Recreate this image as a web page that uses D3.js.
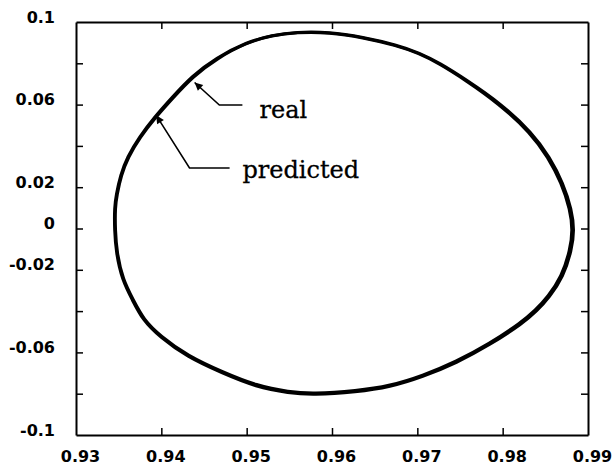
<!DOCTYPE html>
<html>
<head>
<meta charset="utf-8">
<script src="https://cdn.jsdelivr.net/npm/d3@7"></script>
<style>
  body { margin: 0; background: #fff; }
  .tick text { font-family: "DejaVu Sans", sans-serif; font-weight: bold; font-size: 16px; fill: #000; }
  .note { font-family: "DejaVu Serif", serif; font-size: 24px; fill: #000; stroke: #000; stroke-width: 0.3px; }
</style>
</head>
<body>
<svg id="chart" width="615" height="470"></svg>
<script>
const xTicks = [0.93, 0.94, 0.95, 0.96, 0.97, 0.98, 0.99];
const yTicks = [-0.1, -0.08, -0.06, -0.04, -0.02, 0, 0.02, 0.04, 0.06, 0.08, 0.1];
const yLabels = [0.1, 0.06, 0.02, 0, -0.02, -0.06, -0.1];

// real trajectory (clockwise from the top)
const realX = [0.9558, 0.9597, 0.9636, 0.9676, 0.9703, 0.9726, 0.9758, 0.9797, 0.9835, 0.9855,
               0.9871, 0.9881, 0.9884, 0.9881, 0.9871, 0.9855, 0.9840, 0.9824, 0.9785, 0.9746,
               0.9706, 0.9668, 0.9629, 0.9577, 0.9550, 0.9511, 0.9471, 0.9430, 0.9398, 0.9378,
               0.9366, 0.9354, 0.9347, 0.9345, 0.9345, 0.9347, 0.9352, 0.9360, 0.9374, 0.9392,
               0.9413, 0.9436, 0.9464, 0.9500, 0.9530];
const realY = [0.0952, 0.0952, 0.0927, 0.0889, 0.0850, 0.0802, 0.0719, 0.0608, 0.0463, 0.0346,
               0.0220, 0.0090, -0.0007, -0.0104, -0.0235, -0.0332, -0.0400, -0.0458, -0.0564, -0.0651,
               -0.0719, -0.0768, -0.0792, -0.0806, -0.0797, -0.0768, -0.0700, -0.0622, -0.0525, -0.0443,
               -0.0346, -0.0249, -0.0119, -0.0007, 0.0104, 0.0162, 0.0259, 0.0346, 0.0443, 0.0540,
               0.0637, 0.0739, 0.0826, 0.0903, 0.0937];

// predicted trajectory, almost on top of the real one
const predX = [0.9558, 0.9597, 0.9636, 0.9675, 0.9702, 0.9725, 0.9757, 0.9795, 0.9833, 0.9853,
               0.9869, 0.9879, 0.9882, 0.9879, 0.9869, 0.9853, 0.9838, 0.9822, 0.9784, 0.9745,
               0.9706, 0.9668, 0.9629, 0.9577, 0.9550, 0.9512, 0.9472, 0.9431, 0.9399, 0.9379,
               0.9367, 0.9355, 0.9348, 0.9346, 0.9346, 0.9348, 0.9353, 0.9361, 0.9375, 0.9393,
               0.9414, 0.9437, 0.9465, 0.9500, 0.9530];
const predY = [0.0950, 0.0950, 0.0925, 0.0887, 0.0848, 0.0800, 0.0717, 0.0606, 0.0462, 0.0345,
               0.0220, 0.0090, -0.0007, -0.0104, -0.0234, -0.0330, -0.0397, -0.0454, -0.0559, -0.0645,
               -0.0713, -0.0762, -0.0786, -0.0800, -0.0791, -0.0762, -0.0695, -0.0617, -0.0521, -0.0440,
               -0.0344, -0.0248, -0.0119, -0.0007, 0.0104, 0.0161, 0.0258, 0.0344, 0.0441, 0.0537,
               0.0634, 0.0736, 0.0823, 0.0901, 0.0935];

// annotations: label, arrow tip, elbow, end of leader, text anchor
const noteText = ["real", "predicted"];
const noteTip = [[0.9439, 0.0707], [0.9394, 0.0548]];
const noteElbow = [[0.9468, 0.0598], [0.9433, 0.0293]];
const noteEnd = [[0.9495, 0.0598], [0.9480, 0.0293]];
const noteAt = [[0.9515, 0.0535], [0.9495, 0.0245]];

const svg = d3.select("#chart");

const x = d3.scaleLinear().domain([0.93, 0.99]).range([76, 588]);
const y = d3.scaleLinear().domain([-0.1, 0.1]).range([435, 22]);

svg.append("defs").append("marker")
  .attr("id", "head")
  .attr("viewBox", "0 0 10 10")
  .attr("refX", 10)
  .attr("refY", 5)
  .attr("markerWidth", 13)
  .attr("markerHeight", 8)
  .attr("markerUnits", "userSpaceOnUse")
  .attr("orient", "auto-start-reverse")
  .append("path")
  .attr("d", "M0,0L10,5L0,10Z")
  .attr("fill", "#000");

// frame with inward ticks
const label = d => String(+d.toFixed(2));
svg.append("g")
  .attr("transform", `translate(0,${y(-0.1)})`)
  .call(d3.axisBottom(x).tickValues(xTicks).tickSizeInner(-7).tickSizeOuter(0).tickPadding(16).tickFormat(label))
  .call(g => g.selectAll(".tick text").attr("dx", 4));

svg.append("g")
  .attr("transform", `translate(0,${y(0.1)})`)
  .call(d3.axisTop(x).tickValues(xTicks).tickSizeInner(-7).tickSizeOuter(0).tickFormat(""));

svg.append("g")
  .attr("transform", `translate(${x(0.93)},0)`)
  .call(d3.axisLeft(y).tickValues(yTicks).tickSizeInner(-7).tickSizeOuter(0).tickPadding(21)
    .tickFormat(d => yLabels.some(v => Math.abs(v - d) < 1e-9) ? label(d) : ""))
  .call(g => g.selectAll(".tick text").attr("y", -5));

svg.append("g")
  .attr("transform", `translate(${x(0.99)},0)`)
  .call(d3.axisRight(y).tickValues(yTicks).tickSizeInner(-7).tickSizeOuter(0).tickFormat(""));

svg.selectAll(".domain").attr("stroke", "#000").attr("stroke-width", 2);
svg.selectAll(".tick line").attr("stroke", "#000").attr("stroke-width", 1.5);
svg.selectAll(".tick").filter(d => d === 0.93 || d === 0.99 || d === 0.1 || d === -0.1)
  .select("line").remove();

// curves
const loop = d3.line()
  .x(d => x(d[0]))
  .y(d => y(d[1]))
  .curve(d3.curveBasisClosed);

const real = realX.map((v, i) => [v, realY[i]]);
const pred = predX.map((v, i) => [v, predY[i]]);

[real, pred].forEach(series => {
  svg.append("path")
    .datum(series)
    .attr("fill", "none")
    .attr("stroke", "#000")
    .attr("stroke-width", 3)
    .attr("d", loop);
});

// annotations
noteText.forEach((t, i) => {
  svg.append("path")
    .attr("d", d3.line()([
      [x(noteEnd[i][0]), y(noteEnd[i][1])],
      [x(noteElbow[i][0]), y(noteElbow[i][1])],
      [x(noteTip[i][0]), y(noteTip[i][1])]
    ]))
    .attr("fill", "none")
    .attr("stroke", "#000")
    .attr("stroke-width", 1.6)
    .attr("marker-end", "url(#head)");

  svg.append("text")
    .attr("class", "note")
    .attr("x", x(noteAt[i][0]))
    .attr("y", y(noteAt[i][1]))
    .text(t);
});
</script>
</body>
</html>
